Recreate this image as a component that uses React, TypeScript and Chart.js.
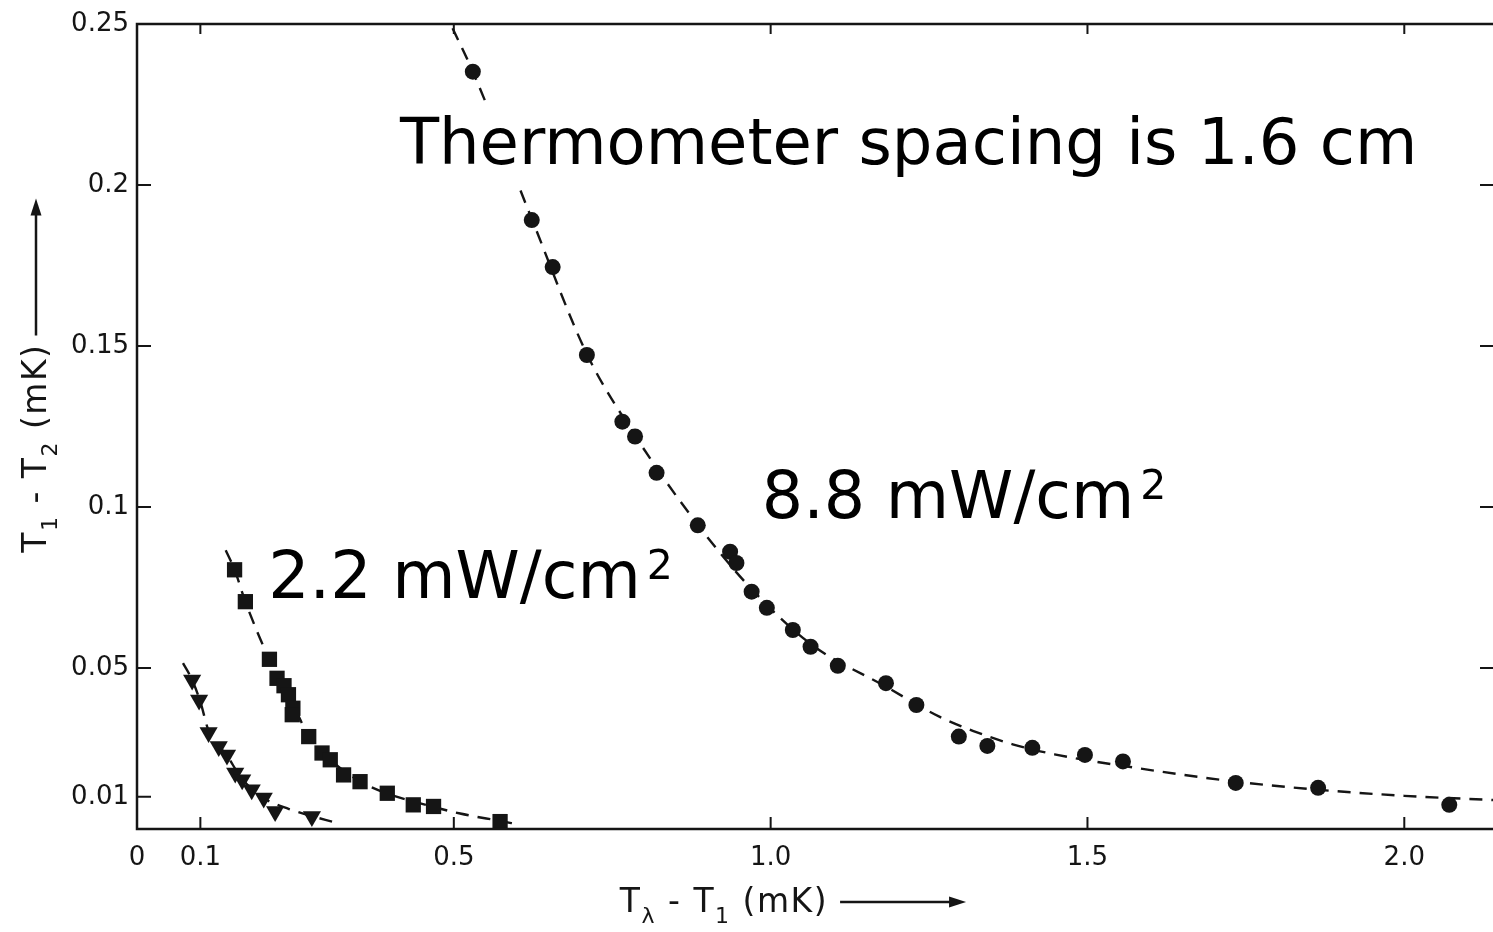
import React, { useEffect, useRef } from "react";
import { Chart, registerables } from "chart.js";

Chart.register(...registerables);

// ---------- data ----------
// 8.8 mW/cm^2 (circles)
const circleX = [0.530, 0.623, 0.656, 0.710, 0.766, 0.786, 0.820, 0.885, 0.936, 0.946, 0.970, 0.994, 1.035, 1.063, 1.106, 1.182, 1.230, 1.297, 1.342, 1.413, 1.496, 1.556, 1.734, 1.864, 2.071];
const circleY = [0.2352, 0.1891, 0.1745, 0.1472, 0.1265, 0.1219, 0.1106, 0.0943, 0.0861, 0.0826, 0.0737, 0.0687, 0.0618, 0.0566, 0.0507, 0.0453, 0.0385, 0.0287, 0.0258, 0.0252, 0.0230, 0.0210, 0.0143, 0.0128, 0.0075];

// 2.2 mW/cm^2 (squares)
const squareX = [0.154, 0.171, 0.209, 0.221, 0.232, 0.239, 0.246, 0.245, 0.271, 0.292, 0.305, 0.326, 0.352, 0.395, 0.436, 0.468, 0.573];
const squareY = [0.0805, 0.0706, 0.0527, 0.0468, 0.0445, 0.0417, 0.0375, 0.0355, 0.0287, 0.0236, 0.0215, 0.0168, 0.0147, 0.0111, 0.0075, 0.0070, 0.0023];

// lowest heat flux (down triangles)
const triX = [0.087, 0.098, 0.113, 0.129, 0.142, 0.155, 0.166, 0.181, 0.200, 0.218, 0.276];
const triY = [0.0463, 0.0401, 0.0300, 0.0256, 0.0230, 0.0174, 0.0153, 0.0122, 0.0096, 0.0054, 0.0039];

// dashed guide curves, read along the drawn dashes
const fitCircleX = [0.498, 0.530, 0.623, 0.710, 0.786, 0.885, 0.970, 1.063, 1.182, 1.267, 1.319, 1.382, 1.450, 1.556, 1.734, 1.864, 2.000, 2.140];
const fitCircleY = [0.2487, 0.2352, 0.1895, 0.1475, 0.1222, 0.0945, 0.0745, 0.0575, 0.0442, 0.0348, 0.0305, 0.0263, 0.0231, 0.0196, 0.0147, 0.0122, 0.0103, 0.0090];
const fitSquareX = [0.140, 0.154, 0.171, 0.209, 0.239, 0.271, 0.305, 0.352, 0.395, 0.450, 0.510, 0.573, 0.600];
const fitSquareY = [0.0866, 0.0805, 0.0706, 0.0527, 0.0417, 0.0290, 0.0215, 0.0148, 0.0110, 0.0078, 0.0048, 0.0025, 0.0015];
const fitTriX = [0.0726, 0.087, 0.100, 0.113, 0.142, 0.166, 0.200, 0.240, 0.276, 0.308];
const fitTriY = [0.0515, 0.0463, 0.0395, 0.0305, 0.0228, 0.0155, 0.0096, 0.0062, 0.0040, 0.0023];

// axes
const xTicks = [0, 0.1, 0.5, 1.0, 1.5, 2.0];
const xTickLabels = ["0", "0.1", "0.5", "1.0", "1.5", "2.0"];
const yTicks = [0.01, 0.05, 0.1, 0.15, 0.2, 0.25];
const yTickLabels = ["0.01", "0.05", "0.1", "0.15", "0.2", "0.25"];
const rightTicks = [0.05, 0.1, 0.15, 0.2];

// annotation texts
const noteTexts = ["Thermometer spacing is 1.6 cm", "8.8 mW/cm", "2.2 mW/cm"];
const noteSups = ["", "2", "2"];

// ---------- layout / style ----------
const X_MIN = 0;
const X_MAX = 2.14;
const Y_MIN = 0;
const Y_MAX = 0.25;
const noteAnchors = [
  { x: 0.415, y: 0.2065, box: true, size: 64 },
  { x: 0.986, y: 0.0966, box: false, size: 65 },
  { x: 0.207, y: 0.0718, box: false, size: 65 },
];
const xTitleAnchor = { x: 0.762 };
const yTitleAnchor = { y: 0.0858 };
const INK = "#151515";
const FONT = "'DejaVu Sans', Verdana, sans-serif";
const TITLE_SIZE = 33;

type Part = { t: string; sub?: boolean };

function drawRich(ctx: CanvasRenderingContext2D, parts: Part[], size: number): number {
  let x = 0;
  (ctx as any).letterSpacing = "1.5px";
  for (const p of parts) {
    const s = p.sub ? Math.round(size * 0.66) : size;
    ctx.font = `${s}px ${FONT}`;
    ctx.fillText(p.t, x, p.sub ? size * 0.32 : 0);
    x += ctx.measureText(p.t).width;
  }
  (ctx as any).letterSpacing = "0px";
  return x;
}

function drawArrow(ctx: CanvasRenderingContext2D, x0: number, len: number, yMid: number) {
  ctx.beginPath();
  ctx.lineWidth = 2.5;
  ctx.moveTo(x0, yMid);
  ctx.lineTo(x0 + len - 12, yMid);
  ctx.stroke();
  ctx.beginPath();
  ctx.moveTo(x0 + len, yMid);
  ctx.lineTo(x0 + len - 17, yMid - 5.5);
  ctx.lineTo(x0 + len - 17, yMid + 5.5);
  ctx.closePath();
  ctx.fill();
}

const decorPlugin = {
  id: "decor",
  afterDraw(chart: any) {
    const { ctx, chartArea: a, scales } = chart;
    const xs = scales.x;
    const ys = scales.y;
    ctx.save();
    ctx.strokeStyle = INK;
    ctx.fillStyle = INK;
    ctx.lineCap = "butt";

    // frame
    ctx.lineWidth = 2.5;
    ctx.beginPath();
    ctx.moveTo(a.right, a.top);
    ctx.lineTo(a.left, a.top);
    ctx.lineTo(a.left, a.bottom);
    ctx.lineTo(a.right, a.bottom);
    ctx.stroke();

    // inward ticks
    ctx.lineWidth = 2;
    ctx.beginPath();
    for (const v of xTicks) {
      if (v === X_MIN) continue;
      const px = xs.getPixelForValue(v);
      ctx.moveTo(px, a.bottom);
      ctx.lineTo(px, a.bottom - 12);
      ctx.moveTo(px, a.top);
      ctx.lineTo(px, a.top + 10);
    }
    for (const v of yTicks) {
      if (v === Y_MAX) continue;
      const py = ys.getPixelForValue(v);
      ctx.moveTo(a.left, py);
      ctx.lineTo(a.left + 14, py);
    }
    for (const v of rightTicks) {
      const py = ys.getPixelForValue(v);
      ctx.moveTo(a.right, py);
      ctx.lineTo(a.right - 13, py);
    }
    ctx.stroke();

    // annotations
    ctx.textAlign = "left";
    ctx.textBaseline = "alphabetic";
    noteTexts.forEach((txt, i) => {
      const an = noteAnchors[i];
      const px = xs.getPixelForValue(an.x);
      const py = ys.getPixelForValue(an.y);
      ctx.font = `${an.size}px ${FONT}`;
      const m = ctx.measureText(txt);
      if (an.box) {
        ctx.fillStyle = "#ffffff";
        ctx.fillRect(px - 6, py - 62, m.width + 12, 86);
      }
      ctx.fillStyle = "#000000";
      ctx.fillText(txt, px, py);
      if (noteSups[i]) {
        ctx.font = `41px ${FONT}`;
        ctx.fillText(noteSups[i], px + m.width + 6, py - 19);
      }
    });

    // x axis title
    ctx.fillStyle = INK;
    ctx.strokeStyle = INK;
    const tx = xs.getPixelForValue(xTitleAnchor.x);
    const ty = a.bottom + 83;
    ctx.save();
    ctx.translate(tx, ty);
    const wx = drawRich(ctx, [{ t: "T" }, { t: "λ", sub: true }, { t: " - T" }, { t: "1", sub: true }, { t: " (mK)" }], TITLE_SIZE);
    drawArrow(ctx, wx + 12, 126, -10);
    ctx.restore();

    // y axis title
    const yy = ys.getPixelForValue(yTitleAnchor.y);
    ctx.save();
    ctx.translate(a.left - 91, yy);
    ctx.rotate(-Math.PI / 2);
    const wy = drawRich(ctx, [{ t: "T" }, { t: "1", sub: true }, { t: " - T" }, { t: "2", sub: true }, { t: " (mK)" }], TITLE_SIZE);
    drawArrow(ctx, wy + 8, 137, -10);
    ctx.restore();

    ctx.restore();
  },
};

export default function App() {
  const ref = useRef<HTMLCanvasElement | null>(null);

  useEffect(() => {
    document.body.style.margin = "0";
    const canvas = ref.current;
    if (!canvas) return;

    const pts = (xs: number[], ys: number[]) => xs.map((x, i) => ({ x, y: ys[i] }));
    const tickFont = { family: FONT, size: 26 };
    const fitStyle = {
      showLine: true,
      pointRadius: 0,
      borderColor: INK,
      borderWidth: 2.4,
      borderDash: [13, 9],
      cubicInterpolationMode: "monotone",
    };

    const chart = new Chart(canvas, {
      type: "scatter",
      data: {
        datasets: [
          {
            label: "8.8 mW/cm²",
            data: pts(circleX, circleY),
            pointStyle: "circle",
            pointRadius: 8,
            backgroundColor: INK,
            borderColor: INK,
            borderWidth: 0,
            showLine: false,
          },
          {
            label: "2.2 mW/cm²",
            data: pts(squareX, squareY),
            pointStyle: "rect",
            pointRadius: 10.8,
            backgroundColor: INK,
            borderColor: INK,
            borderWidth: 0,
            showLine: false,
          },
          {
            label: "low",
            data: pts(triX, triY),
            pointStyle: "triangle",
            pointRotation: 180,
            pointRadius: 10.5,
            backgroundColor: INK,
            borderColor: INK,
            borderWidth: 0,
            showLine: false,
          },
          { label: "fit 8.8", data: pts(fitCircleX, fitCircleY), ...fitStyle },
          { label: "fit 2.2", data: pts(fitSquareX, fitSquareY), ...fitStyle },
          { label: "fit low", data: pts(fitTriX, fitTriY), ...fitStyle },
        ],
      },
      options: {
        animation: false,
        responsive: false,
        events: [],
        layout: { autoPadding: false, padding: { top: 24, left: 0, right: 0, bottom: 0 } },
        plugins: {
          legend: { display: false },
          tooltip: { enabled: false },
          title: { display: false },
        },
        scales: {
          x: {
            type: "linear",
            min: X_MIN,
            max: X_MAX,
            grid: { display: false, drawTicks: false },
            border: { display: false },
            afterBuildTicks: (s: any) => {
              s.ticks = xTicks.map((v) => ({ value: v }));
            },
            afterFit: (s: any) => {
              s.height = 103;
              s.paddingLeft = 0;
              s.paddingRight = 0;
            },
            ticks: {
              autoSkip: false,
              maxRotation: 0,
              padding: 14,
              color: INK,
              font: tickFont,
              callback: (_v: any, i: number) => xTickLabels[i],
            },
          },
          y: {
            type: "linear",
            min: Y_MIN,
            max: Y_MAX,
            grid: { display: false, drawTicks: false },
            border: { display: false },
            afterBuildTicks: (s: any) => {
              s.ticks = yTicks.map((v) => ({ value: v }));
            },
            afterFit: (s: any) => {
              s.width = 137;
              s.paddingTop = 0;
              s.paddingBottom = 0;
            },
            ticks: {
              autoSkip: false,
              padding: 8,
              color: INK,
              font: tickFont,
              callback: (_v: any, i: number) => yTickLabels[i],
            },
          },
        },
      },
      plugins: [decorPlugin],
    } as any);

    return () => chart.destroy();
  }, []);

  return <canvas ref={ref} width={1493} height={932} style={{ display: "block" }} />;
}
